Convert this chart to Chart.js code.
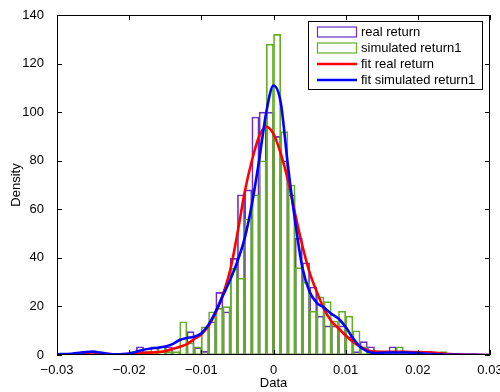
<!DOCTYPE html>
<html>
<head>
<meta charset="utf-8">
<script src="https://cdn.jsdelivr.net/npm/chart.js@4.4.1/dist/chart.umd.min.js"></script>
<style>
  html, body { margin: 0; padding: 0; background: #fff; }
  #wrap { width: 500px; height: 392px; }
</style>
</head>
<body>
<div id="wrap"><canvas id="histChart" width="500" height="392"></canvas></div>
<script>
// histogram bin centres (bin width 0.001)
const binCenters = [
  -0.0265, -0.0255, -0.0245, -0.0235, -0.0225, -0.0215, -0.0205, -0.0195, -0.0185, -0.0175,
  -0.0165, -0.0155, -0.0145, -0.0135, -0.0125, -0.0115, -0.0105, -0.0095, -0.0085, -0.0075,
  -0.0065, -0.0055, -0.0045, -0.0035, -0.0025, -0.0015, -0.0005, 0.0005, 0.0015, 0.0025,
  0.0035, 0.0045, 0.0055, 0.0065, 0.0075, 0.0085, 0.0095, 0.0105, 0.0115, 0.0125,
  0.0135, 0.0145, 0.0155, 0.0165, 0.0175, 0.0185, 0.0195, 0.0205, 0.0215, 0.0225, 0.0235
];
// density of each bin
const realReturn = [
  0, 0, 0, 0, 0, 0, 0, 0, 3.4, 0,
  0, 0, 3.4, 0, 0, 9.6, 3, 1.5, 13.7, 25.8,
  17.8, 39.8, 66, 68, 98, 100, 100, 90, 80, 66,
  48, 38, 28, 16, 12, 12, 12, 7.5, 1.4, 5.5,
  3.4, 0, 0, 3.4, 0, 0, 0, 0, 1.4, 0, 0
];
const simReturn1 = [
  0, 1.4, 0, 0, 0, 0, 0, 1.4, 0, 1.4,
  3.4, 3.4, 1.4, 1.4, 13.7, 5, 3.4, 11.6, 17.8, 19.2,
  19.9, 35.7, 31.6, 56, 66, 80, 128, 132, 92, 70,
  36, 30, 18, 24, 22, 14, 18, 16, 10, 3.4,
  1, 0, 0, 0, 3.4, 0, 0, 0, 0, 0, 1.4
];

// kernel fits
const fitX = [
  -0.030, -0.028, -0.026, -0.025, -0.024, -0.022, -0.020, -0.019, -0.018, -0.017,
  -0.016, -0.015, -0.014, -0.013, -0.012, -0.011, -0.010, -0.009, -0.008, -0.007,
  -0.006, -0.005, -0.004, -0.003, -0.002, -0.001, 0.000, 0.001, 0.002, 0.003,
  0.004, 0.005, 0.006, 0.007, 0.008, 0.009, 0.010, 0.011, 0.012, 0.013,
  0.014, 0.016, 0.018, 0.020, 0.022, 0.024, 0.026, 0.028, 0.030
];
const fitReal = [
  0, 0.2, 0.9, 1.0, 0.7, 0.2, 0.3, 0.6, 0.9, 1.0,
  1.2, 1.6, 2.5, 3.4, 4.5, 6.5, 8.5, 12, 17.5, 25,
  35, 50, 67, 80, 90, 94, 91, 83, 72, 58,
  45, 34, 26, 19, 14, 11, 8, 5.5, 3.4, 2,
  1.4, 1.3, 1.3, 1.2, 1.0, 0.5, 0.2, 0.05, 0
];
const fitSim = [
  0.3, 0.5, 1.2, 1.4, 1.0, 0.3, 0.6, 1.3, 2.2, 2.7,
  3.0, 3.5, 4.5, 6.2, 7.0, 7.5, 9, 12.5, 18, 24.5,
  31, 38.5, 48, 62, 80, 100, 111, 104, 78, 55,
  36, 26, 21.5, 19.5, 17, 15, 11.5, 7, 3.4, 1.5,
  0.8, 1.0, 1.0, 0.8, 0.4, 0.2, 0.1, 0.05, 0
];

const xTicks = [-0.03, -0.02, -0.01, 0, 0.01, 0.02, 0.03];
const yTicks = [0, 20, 40, 60, 80, 100, 120, 140];

const FONT = 'Liberation Sans, Arial, Helvetica, sans-serif';
const PURPLE = '#6a2fc0';
const GREEN = '#62ad24';

const pairs = (xs, ys) => xs.map((x, i) => ({ x: x, y: ys[i] }));

// box round the axes, with ticks pointing inwards (matlab style)
const frameTicks = {
  id: 'frameTicks',
  afterDraw(chart) {
    const { ctx, chartArea: a, scales: { x, y } } = chart;
    ctx.save();
    ctx.strokeStyle = '#000';
    ctx.lineWidth = 1;
    ctx.beginPath();
    xTicks.forEach(v => {
      const px = Math.round(x.getPixelForValue(v)) + 0.5;
      ctx.moveTo(px, a.bottom); ctx.lineTo(px, a.bottom - 5);
      ctx.moveTo(px, a.top); ctx.lineTo(px, a.top + 5);
    });
    yTicks.forEach(v => {
      const py = Math.round(y.getPixelForValue(v)) + 0.5;
      ctx.moveTo(a.left, py); ctx.lineTo(a.left + 5, py);
      ctx.moveTo(a.right, py); ctx.lineTo(a.right - 5, py);
    });
    ctx.stroke();
    ctx.strokeRect(Math.round(a.left) + 0.5, Math.round(a.top) + 0.5,
      Math.round(a.width) - 1, Math.round(a.height) - 1);
    ctx.restore();
  }
};

// legend drawn inside the axes, top right
const boxLegend = {
  id: 'boxLegend',
  afterDraw(chart) {
    const ctx = chart.ctx;
    const bx = 308.5, by = 21.5, bw = 174, bh = 68;
    ctx.save();
    ctx.fillStyle = '#fff';
    ctx.fillRect(bx, by, bw, bh);
    ctx.strokeStyle = '#000';
    ctx.lineWidth = 1;
    ctx.strokeRect(bx, by, bw, bh);
    ctx.font = '13px ' + FONT;
    ctx.textBaseline = 'middle';
    ctx.textAlign = 'left';
    const rows = [32, 48, 64, 80];
    chart.data.datasets.forEach((ds, i) => {
      const ry = rows[i];
      if (ds.type === 'line') {
        ctx.strokeStyle = ds.borderColor;
        ctx.lineWidth = 2.6;
        ctx.beginPath();
        ctx.moveTo(317, ry); ctx.lineTo(357, ry);
        ctx.stroke();
      } else {
        ctx.strokeStyle = ds.borderColor;
        ctx.lineWidth = 1.2;
        ctx.strokeRect(317.5, ry - 5, 39, 10);
      }
      ctx.fillStyle = '#000';
      ctx.fillText(ds.label, 361, ry);
    });
    ctx.restore();
  }
};

new Chart(document.getElementById('histChart'), {
  type: 'bar',
  data: {
    datasets: [
      {
        label: 'real return',
        data: pairs(binCenters, realReturn),
        borderColor: PURPLE,
        backgroundColor: 'rgba(0,0,0,0)',
        borderWidth: 1,
        borderSkipped: false,
        grouped: false,
        barPercentage: 1,
        categoryPercentage: 1,
        order: 3
      },
      {
        label: 'simulated return1',
        data: pairs(binCenters, simReturn1),
        borderColor: GREEN,
        backgroundColor: 'rgba(0,0,0,0)',
        borderWidth: 1,
        borderSkipped: false,
        grouped: false,
        barPercentage: 1,
        categoryPercentage: 1,
        order: 2
      },
      {
        type: 'line',
        label: 'fit real return',
        data: pairs(fitX, fitReal),
        borderColor: '#ff0000',
        borderWidth: 2.6,
        pointRadius: 0,
        cubicInterpolationMode: 'monotone',
        fill: false,
        order: 1
      },
      {
        type: 'line',
        label: 'fit simulated return1',
        data: pairs(fitX, fitSim),
        borderColor: '#0000ff',
        borderWidth: 2.6,
        pointRadius: 0,
        cubicInterpolationMode: 'monotone',
        fill: false,
        order: 0
      }
    ]
  },
  options: {
    responsive: false,
    devicePixelRatio: 1,
    animation: false,
    layout: { padding: { top: 15, right: 10, left: 0, bottom: 0 } },
    plugins: { legend: { display: false }, tooltip: { enabled: false } },
    scales: {
      x: {
        type: 'linear',
        min: -0.03,
        max: 0.03,
        offset: false,
        grid: { display: false },
        border: { display: false },
        ticks: {
          stepSize: 0.01,
          padding: 0,
          color: '#000',
          font: { family: FONT, size: 13 },
          maxRotation: 0,
          callback: v => Math.abs(v) < 1e-9 ? '0' : (v < 0 ? '\u2212' : '') + Math.abs(v).toFixed(2)
        },
        title: {
          display: true,
          text: 'Data',
          color: '#000',
          font: { family: FONT, size: 13 },
          padding: { top: 0, bottom: 1 }
        },
        afterFit: s => { s.height = 37; s.paddingLeft = 0; s.paddingRight = 0; }
      },
      y: {
        min: 0,
        max: 140,
        grid: { display: false },
        border: { display: false },
        ticks: {
          stepSize: 20,
          padding: 5,
          color: '#000',
          font: { family: FONT, size: 13 }
        },
        title: {
          display: true,
          text: 'Density',
          color: '#000',
          font: { family: FONT, size: 13 },
          padding: { top: 9, bottom: 0 }
        },
        afterFit: s => { s.width = 57; s.paddingTop = 0; s.paddingBottom = 0; }
      }
    }
  },
  plugins: [frameTicks, boxLegend]
});
</script>
</body>
</html>
